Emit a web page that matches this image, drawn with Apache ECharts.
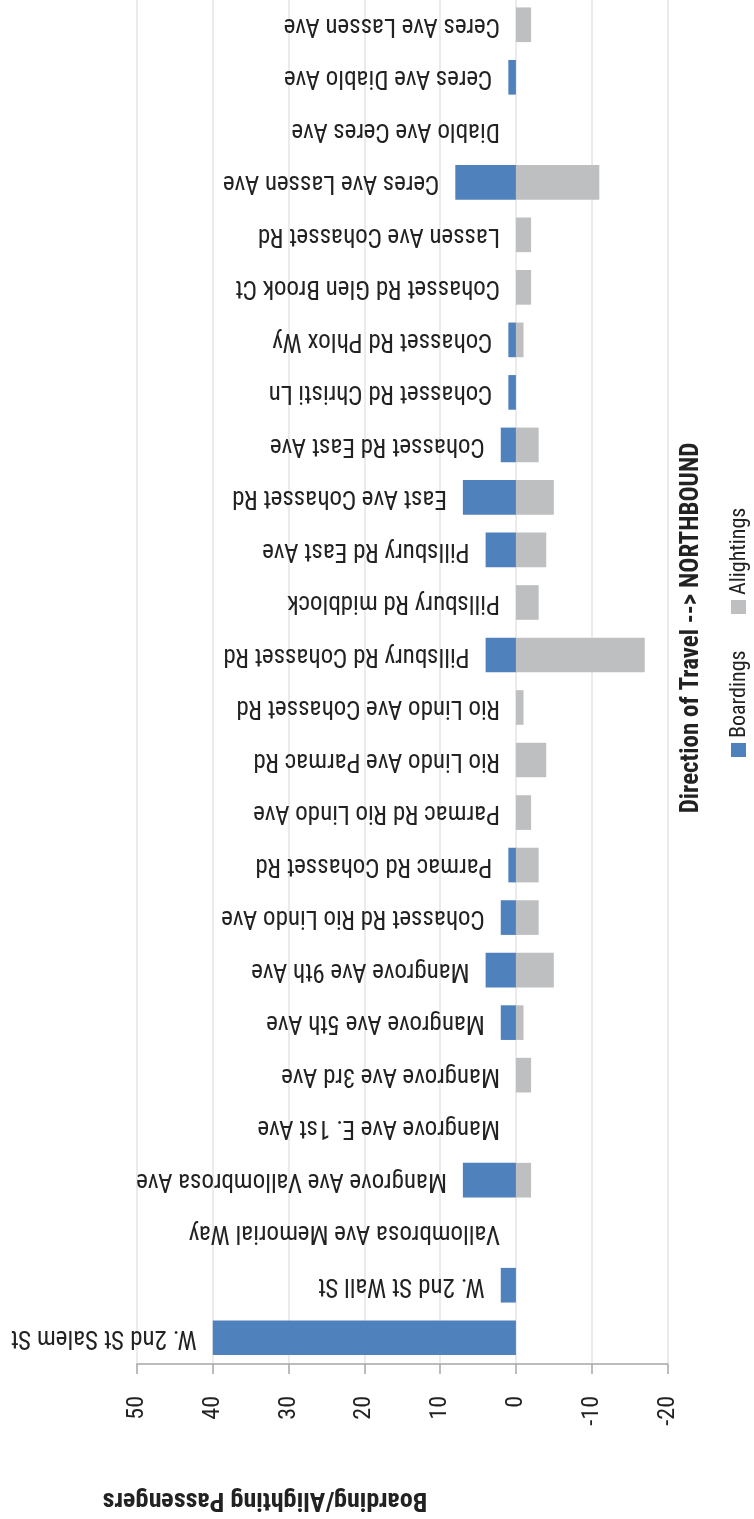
<!DOCTYPE html>
<html>
<head>
<meta charset="utf-8">
<script src="https://cdn.jsdelivr.net/npm/echarts@6/dist/echarts.min.js"></script>
<style>
html,body{margin:0;padding:0;background:#ffffff;}
#chart{width:754px;height:1519px;}
</style>
</head>
<body>
<div id="chart"></div>
<script>
// ---- data (route order, first stop drawn at the bottom) ----
const stops = [
  'W. 2nd St Salem St',
  'W. 2nd St Wall St',
  'Vallombrosa Ave Memorial Way',
  'Mangrove Ave Vallombrosa Ave',
  'Mangrove Ave E. 1st Ave',
  'Mangrove Ave 3rd Ave',
  'Mangrove Ave 5th Ave',
  'Mangrove Ave 9th Ave',
  'Cohasset Rd Rio Lindo Ave',
  'Parmac Rd Cohasset Rd',
  'Parmac Rd Rio Lindo Ave',
  'Rio Lindo Ave Parmac Rd',
  'Rio Lindo Ave Cohasset Rd',
  'Pillsbury Rd Cohasset Rd',
  'Pillsbury Rd midblock',
  'Pillsbury Rd East Ave',
  'East Ave Cohasset Rd',
  'Cohasset Rd East Ave',
  'Cohasset Rd Christi Ln',
  'Cohasset Rd Phlox Wy',
  'Cohasset Rd Glen Brook Ct',
  'Lassen Ave Cohasset Rd',
  'Ceres Ave Lassen Ave',
  'Diablo Ave Ceres Ave',
  'Ceres Ave Diablo Ave',
  'Ceres Ave Lassen Ave'
];
const boardings  = [40, 2, 0, 7, 0, 0, 2, 4, 2, 1, 0, 0, 0, 4, 0, 4, 7, 2, 1, 1, 0, 0, 8, 0, 1, 0];
const alightings = [0, 0, 0, -2, 0, -2, -1, -5, -3, -3, -2, -4, -1, -17, -3, -4, -5, -3, 0, -1, -2, -2, -11, 0, 0, -2];
const valueMin = -20;
const valueMax = 50;
const valueStep = 10;
const seriesNames = ['Boardings', 'Alightings'];
const axisTitle = 'Boarding/Alighting Passengers';
const directionTitle = 'Direction of Travel --> NORTHBOUND';

// ---- styling ----
const FONT = "'Liberation Sans Narrow','Roboto Condensed','Arial Narrow',Roboto,sans-serif";
const BLUE = '#4F81BD';
const GRAY = '#BEBFC1';
const TEXT = '#222222';

const chart = echarts.init(document.getElementById('chart'), null, {renderer: 'canvas'});

const option = {
  backgroundColor: '#ffffff',
  animation: false,
  grid: {left: 137, right: 86.5, top: -1.5, bottom: 155, containLabel: false, outerBoundsMode: 'none'},
  xAxis: {
    type: 'value',
    inverse: true,
    position: 'bottom',
    min: valueMin,
    max: valueMax,
    interval: valueStep,
    axisLine: {show: true, onZero: false, lineStyle: {color: '#A6A6A6', width: 1.5}},
    axisTick: {show: true, length: 10, lineStyle: {color: '#A6A6A6', width: 1.5}},
    axisLabel: {rotate: 90, margin: 32, fontSize: 24, color: TEXT, fontFamily: FONT},
    splitLine: {show: true, lineStyle: {color: '#E4E4E4', width: 1.5}}
  },
  yAxis: {
    type: 'category',
    data: stops,
    axisLine: {show: false},
    axisTick: {show: false},
    axisLabel: {show: false},
    splitLine: {show: false}
  },
  series: [
    {
      name: seriesNames[0],
      type: 'bar',
      data: boardings,
      barWidth: '66%',
      barGap: '-100%',
      itemStyle: {color: BLUE},
      label: {
        show: true,
        position: 'left',
        distance: 16,
        rotate: 180,
        align: 'left',
        verticalAlign: 'middle',
        formatter: function (p) { return stops[p.dataIndex]; },
        fontSize: 25,
        color: TEXT,
        fontFamily: FONT
      },
      z: 3
    },
    {
      name: seriesNames[1],
      type: 'bar',
      data: alightings,
      barWidth: '66%',
      barGap: '-100%',
      itemStyle: {color: GRAY},
      z: 2
    }
  ],
  graphic: [
    {
      type: 'text', x: 265, y: 1499, rotation: Math.PI,
      style: {text: axisTitle, fill: TEXT, font: 'bold 26px ' + FONT, textAlign: 'center', textVerticalAlign: 'middle'}
    },
    {
      type: 'text', x: 692, y: 628, rotation: Math.PI / 2,
      style: {text: directionTitle, fill: TEXT, font: 'bold 25px ' + FONT, textAlign: 'center', textVerticalAlign: 'middle'}
    },
    {
      type: 'rect', shape: {x: 731, y: 743, width: 15, height: 14}, style: {fill: BLUE}
    },
    {
      type: 'text', x: 739, y: 738, rotation: Math.PI / 2,
      style: {text: seriesNames[0], fill: TEXT, font: '22px ' + FONT, textAlign: 'left', textVerticalAlign: 'middle'}
    },
    {
      type: 'rect', shape: {x: 731, y: 600, width: 15, height: 14}, style: {fill: GRAY}
    },
    {
      type: 'text', x: 739, y: 595, rotation: Math.PI / 2,
      style: {text: seriesNames[1], fill: TEXT, font: '22px ' + FONT, textAlign: 'left', textVerticalAlign: 'middle'}
    }
  ]
};
chart.setOption(option);
</script>
</body>
</html>
